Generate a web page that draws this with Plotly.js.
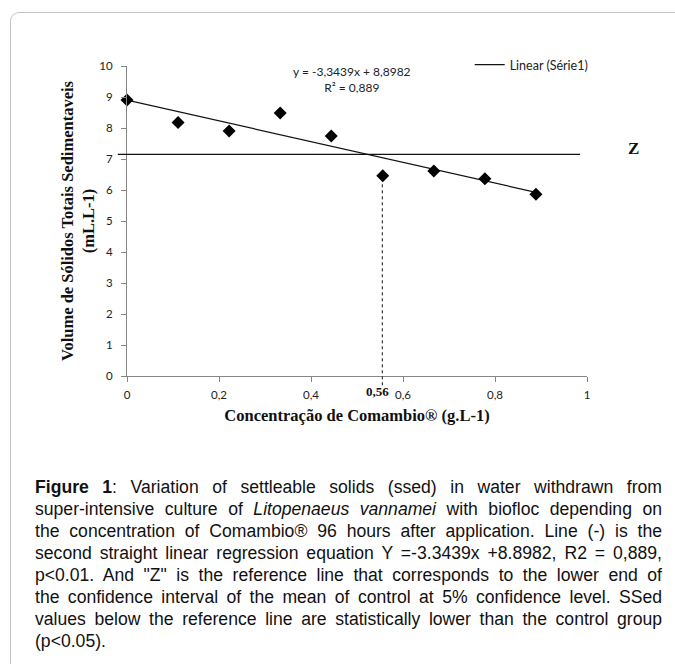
<!DOCTYPE html>
<html>
<head>
<meta charset="utf-8">
<script src="https://cdn.plot.ly/plotly-3.0.1.min.js"></script>
<style>
  html, body { margin: 0; padding: 0; background: #fff; }
  #wrap { position: relative; width: 675px; height: 664px; overflow: hidden; }
  #frame { position: absolute; left: 10px; top: 12px; width: 700px; height: 700px;
           border-top: 1.5px solid #c4c4c4; border-left: 1.5px solid #c4c4c4;
           border-top-left-radius: 9px; pointer-events: none; }
  #chart { position: absolute; left: 0; top: 0; width: 675px; height: 664px; }
  #caption { position: absolute; left: 35px; top: 476px; width: 627px;
             font-family: "Liberation Sans", Arial, sans-serif; font-size: 17.6px;
             line-height: 22px; color: #111; }
  #caption div { text-align: justify; text-align-last: justify; white-space: nowrap; }
  #caption div.last { text-align-last: left; }
</style>
</head>
<body>
<div id="wrap">
  <div id="frame"></div>
  <div id="chart"></div>
  <div id="caption">
    <div><b>Figure 1</b>: Variation of settleable solids (ssed) in water withdrawn from</div>
    <div>super-intensive culture of <i>Litopenaeus vannamei</i> with biofloc depending on</div>
    <div>the concentration of Comambio® 96 hours after application. Line (-) is the</div>
    <div>second straight linear regression equation Y =-3.3439x +8.8982, R2 = 0,889,</div>
    <div>p&lt;0.01. And "Z" is the reference line that corresponds to the lower end of</div>
    <div>the confidence interval of the mean of control at 5% confidence level. SSed</div>
    <div>values below the reference line are statistically lower than the control group</div>
    <div class="last">(p&lt;0.05).</div>
  </div>
</div>
<script>
// ---- data ----
const concentration = [0, 0.111, 0.222, 0.333, 0.444, 0.556, 0.667, 0.778, 0.889];
const ssed = [8.90, 8.18, 7.90, 8.48, 7.74, 6.46, 6.61, 6.36, 5.86];
const trendX = [0, 0.889];
const trendY = [8.8982, 5.9255];
const zLevel = [7.15];
const cutX = [0.555];
const cutTop = [6.4];
const xTickVals = [0, 0.2, 0.4, 0.6, 0.8, 1];
const xTickText = ['0', '0,2', '0,4', '0,6', '0,8', '1'];
const yTickVals = [0, 1, 2, 3, 4, 5, 6, 7, 8, 9, 10];
const xRange = [0, 1];
const yRange = [0, 10];

const sans = 'Lato, "Open Sans", sans-serif';
const serif = '"Liberation Serif", "Times New Roman", serif';

const traces = [
  {
    x: trendX, y: trendY, type: 'scatter', mode: 'lines',
    name: 'Linear (Série1)',
    line: { color: '#111', width: 1.2 },
    showlegend: true, hoverinfo: 'skip'
  },
  {
    x: concentration, y: ssed, type: 'scatter', mode: 'markers',
    name: 'Série1',
    marker: { symbol: 'diamond', size: 10, color: '#000' },
    showlegend: false, cliponaxis: false
  }
];

const layout = {
  width: 675, height: 664,
  margin: { l: 127, r: 88, t: 66, b: 288 },
  paper_bgcolor: 'rgba(0,0,0,0)',
  plot_bgcolor: 'rgba(0,0,0,0)',
  showlegend: true,
  legend: {
    x: 0.745, y: 1.003, xanchor: 'left', yanchor: 'middle',
    bgcolor: 'rgba(0,0,0,0)', borderwidth: 0,
    font: { family: sans, size: 12.5, color: '#222' },
    itemwidth: 30, tracegroupgap: 0
  },
  xaxis: {
    range: xRange, tickmode: 'array', tickvals: xTickVals, ticktext: xTickText,
    showgrid: false, zeroline: false, showline: true, linecolor: '#868686', linewidth: 1,
    ticks: 'outside', ticklen: 5, tickcolor: '#868686', ticklabelstandoff: 3,
    tickfont: { family: sans, size: 11.5, color: '#222' },
    title: { text: '<b>Concentração de Comambio® (g.L-1)</b>', standoff: 9,
             font: { family: serif, size: 16.5, color: '#111' } }
  },
  yaxis: {
    range: yRange, tickmode: 'array', tickvals: yTickVals,
    showgrid: false, zeroline: false, showline: true, linecolor: '#868686', linewidth: 1,
    ticks: 'outside', ticklen: 5, tickcolor: '#868686', ticklabelstandoff: 6,
    tickfont: { family: sans, size: 11.5, color: '#222' },
    title: { text: '<b>Volume de Sólidos Totais Sedimentaveis<br>(mL.L-1)</b>', standoff: 0,
             font: { family: serif, size: 16.5, color: '#111' } }
  },
  shapes: [
    { type: 'line', xref: 'paper', yref: 'y', x0: -0.02, x1: 0.985,
      y0: zLevel[0], y1: zLevel[0], line: { color: '#111', width: 1.2 } },
    { type: 'line', xref: 'x', yref: 'paper', x0: cutX[0], x1: cutX[0],
      y0: -0.03, y1: (cutTop[0] - yRange[0]) / (yRange[1] - yRange[0]),
      line: { color: '#111', width: 1, dash: 'dot' } }
  ],
  annotations: [
    { xref: 'paper', yref: 'y', x: 0.49, y: 9.55, showarrow: false,
      text: 'y = -3,3439x + 8,8982<br>R² = 0,889', align: 'center',
      font: { family: sans, size: 12, color: '#222' } },
    { xref: 'paper', yref: 'y', x: 1.117, y: 7.35, showarrow: false,
      text: '<b>Z</b>', font: { family: serif, size: 17, color: '#111' } },
    { xref: 'x', yref: 'paper', x: cutX[0] - 0.01, y: -0.018, yanchor: 'top', showarrow: false,
      text: '<b>0,56</b>', font: { family: serif, size: 13, color: '#111' } }
  ]
};

Plotly.newPlot('chart', traces, layout, { displayModeBar: false, staticPlot: true });
</script>
</body>
</html>
